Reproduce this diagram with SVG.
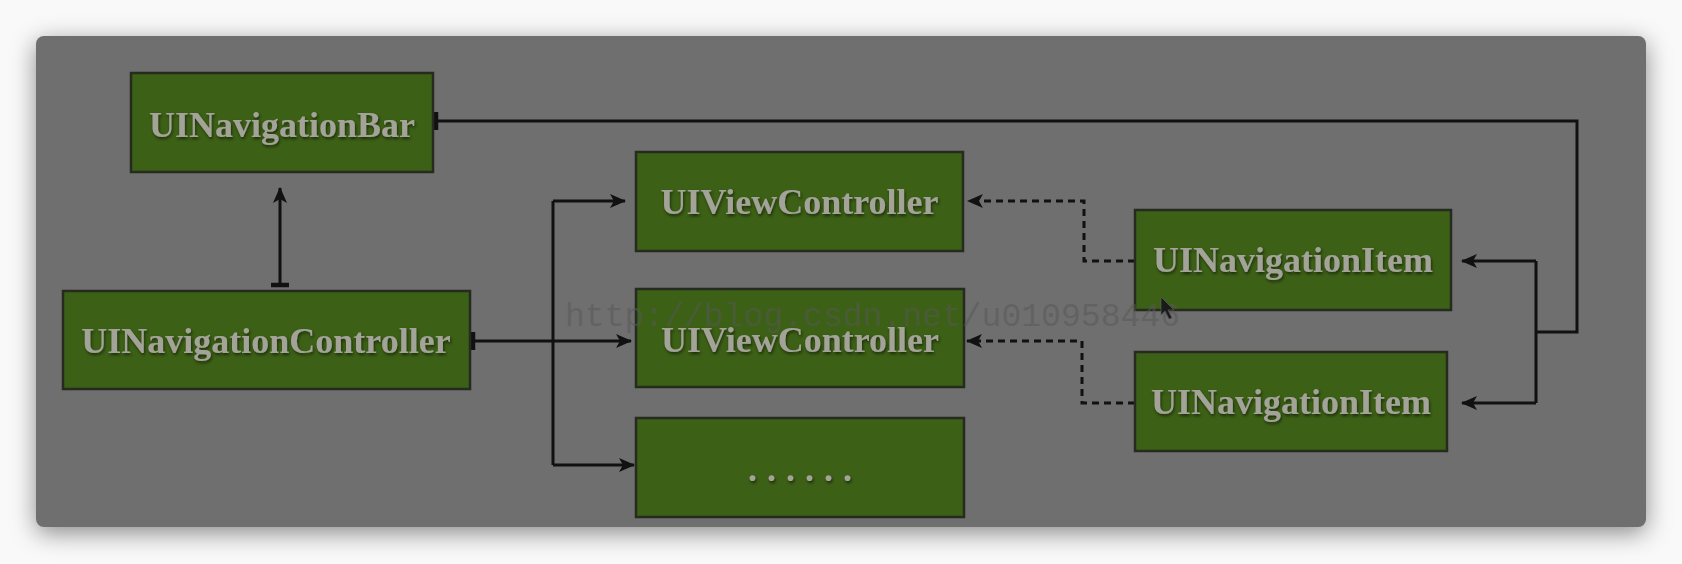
<svg xmlns="http://www.w3.org/2000/svg" width="1682" height="564" viewBox="0 0 1682 564">
  <defs>
    <filter id="panelShadow" x="-10%" y="-20%" width="120%" height="140%">
      <feGaussianBlur stdDeviation="12"/>
    </filter>
    <filter id="txtShadow" x="-10%" y="-30%" width="120%" height="160%">
      <feDropShadow dx="1" dy="2" stdDeviation="1.5" flood-color="#000" flood-opacity="0.55"/>
    </filter>
    <marker id="arrow" markerUnits="userSpaceOnUse" viewBox="0 0 16 16" markerWidth="16" markerHeight="16" refX="15" refY="8" orient="auto">
      <path d="M0,1 L16,8 L0,15 L4,8 Z" fill="#111"/>
    </marker>
    <marker id="tee" markerUnits="userSpaceOnUse" viewBox="-3 -10 6 20" markerWidth="6" markerHeight="20" refX="0" refY="0" orient="auto">
      <path d="M0,-9 L0,9" stroke="#111" stroke-width="4.5"/>
    </marker>
    <style>
      .box { fill: #3c6015; stroke: #262b20; stroke-width: 2.5; }
      .lbl { font-family: "Liberation Serif", "Times New Roman", serif; font-weight: bold; font-size: 36px; fill: #a3a39a; text-anchor: middle; filter: url(#txtShadow); }
      .ln { fill: none; stroke: #111; stroke-width: 3; }
      .dash { fill: none; stroke: #111; stroke-width: 3; stroke-dasharray: 7 5; }
      .wm { font-family: "Liberation Mono", "Courier New", monospace; font-size: 34px; fill: #585858; fill-opacity: 0.55; }
    </style>
  </defs>

  <rect x="0" y="0" width="1682" height="564" fill="#f9f9f9"/>
  <rect x="36" y="42" width="1610" height="491" rx="8" fill="#000" fill-opacity="0.45" filter="url(#panelShadow)"/>
  <rect x="36" y="36" width="1610" height="491" rx="8" fill="#6f6f6f"/>

  <g id="connectors">
    <path class="ln" d="M280,285 V188" marker-start="url(#tee)" marker-end="url(#arrow)"/>
    <path class="ln" d="M436,121 H1577 V332 H1536" marker-start="url(#tee)"/>
    <path class="ln" d="M1536,261 V403"/>
    <path class="ln" d="M1536,261 H1462" marker-end="url(#arrow)"/>
    <path class="ln" d="M1536,403 H1462" marker-end="url(#arrow)"/>
    <path class="ln" d="M473,341 H631" marker-start="url(#tee)" marker-end="url(#arrow)"/>
    <path class="ln" d="M553,201 V465"/>
    <path class="ln" d="M553,201 H625" marker-end="url(#arrow)"/>
    <path class="ln" d="M553,465 H634" marker-end="url(#arrow)"/>
    <path class="dash" d="M1135,261 H1084 V201 H968" marker-end="url(#arrow)"/>
    <path class="dash" d="M1135,403 H1082 V341 H967" marker-end="url(#arrow)"/>
  </g>

  <g id="navbar">
    <rect class="box" x="131" y="73" width="302" height="99"/>
    <text class="lbl" x="282" y="137">UINavigationBar</text>
  </g>
  <g id="navcontroller">
    <rect class="box" x="63" y="291" width="407" height="98"/>
    <text class="lbl" x="266" y="353">UINavigationController</text>
  </g>
  <g id="viewcontroller1">
    <rect class="box" x="636" y="152" width="327" height="99"/>
    <text class="lbl" x="799.5" y="214">UIViewController</text>
  </g>
  <g id="viewcontroller2">
    <rect class="box" x="636" y="289" width="328" height="98"/>
    <text class="lbl" x="800" y="352">UIViewController</text>
  </g>
  <g id="more">
    <rect class="box" x="636" y="418" width="328" height="99"/>
    <text class="lbl" x="805" y="481" letter-spacing="10">......</text>
  </g>
  <g id="navitem1">
    <rect class="box" x="1135" y="210" width="316" height="100"/>
    <text class="lbl" x="1293" y="272">UINavigationItem</text>
  </g>
  <g id="navitem2">
    <rect class="box" x="1135" y="352" width="312" height="99"/>
    <text class="lbl" x="1291" y="414">UINavigationItem</text>
  </g>

  <text class="wm" x="565" y="326" textLength="615" lengthAdjust="spacingAndGlyphs">http://blog.csdn.net/u010958446</text>
  <path d="M1161,297 L1161,315 L1165,311 L1169,319 L1172,318 L1168,310 L1174,310 Z" fill="#1a1a1a" stroke="#555" stroke-width="0.8"/>
</svg>
